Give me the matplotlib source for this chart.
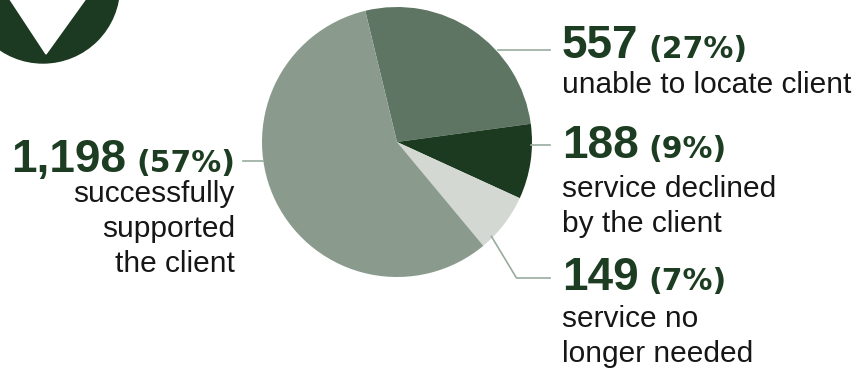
import matplotlib
matplotlib.use("Agg")
import matplotlib.pyplot as plt
from matplotlib.patches import Circle, Polygon

counts = [557, 188, 149, 1198]
percents = [27, 9, 7, 57]
descriptions = ["unable to locate client",
                "service declined\nby the client",
                "service no\nlonger needed",
                "successfully\nsupported\nthe client"]
colors = ["#5e7563", "#1b3a20", "#d3d8d3", "#8a9b8e"]

W, H = 857, 370
fig = plt.figure(figsize=(W / 100, H / 100), dpi=100)
ax = fig.add_axes([0, 0, 1, 1])

def Y(y):
    return H - y

# logo fragment
ax.add_patch(Circle((43, Y(-13.5)), 76.5, color="#1c3a21", zorder=1))
ax.add_patch(Polygon([(12 - 20, Y(-28)), (85 + 20, Y(-28)), (46, Y(54))],
                     closed=True, color="white", zorder=2))

# pie
ax.pie(counts, colors=colors, startangle=103.6, counterclock=False,
       center=(397, Y(142)), radius=135, frame=True,
       wedgeprops=dict(linewidth=0))
ax.set_xlim(0, W)
ax.set_ylim(0, H)
ax.axis("off")

lc = "#9aab9e"
lw = 1.2
ax.plot([498, 550], [Y(50), Y(50)], color=lc, lw=lw)
ax.plot([531, 550], [Y(145), Y(145)], color=lc, lw=lw)
ax.plot([491.5, 516.5, 550], [Y(236.5), Y(278), Y(278)], color=lc, lw=lw)
ax.plot([243, 263], [Y(161), Y(161)], color=lc, lw=lw)

green = "#1d3d22"
dark = "#161616"
font = "Liberation Sans"
pfont = "DejaVu Sans"
big = 33
mid = 21.5
small = 21.5
gap = 10

fig.canvas.draw()
r = fig.canvas.get_renderer()

def headline(x, y, i, align="left"):
    n = f"{counts[i]:,}"
    p = f"({percents[i]}%)"
    if align == "left":
        t1 = ax.text(x, Y(y), n, fontsize=big, fontweight="bold", color=green,
                     family=font, ha="left", va="baseline")
        bb = t1.get_window_extent(r)
        ax.text(bb.x1 + gap, Y(y), p, fontsize=mid, fontweight="bold",
                color=green, family=pfont, ha="left", va="baseline")
    else:
        t2 = ax.text(x, Y(y), p, fontsize=mid, fontweight="bold", color=green,
                     family=pfont, ha="right", va="baseline")
        bb = t2.get_window_extent(r)
        ax.text(bb.x0 - gap, Y(y), n, fontsize=big, fontweight="bold",
                color=green, family=font, ha="right", va="baseline")

def desc(x, y, i, align="left"):
    for k, line in enumerate(descriptions[i].split("\n")):
        ax.text(x, Y(y + 35 * k), line, fontsize=small, color=dark,
                family=font, ha=align, va="baseline")

tx = 562
headline(tx, 58, 0); desc(tx, 93, 0)
headline(tx, 158, 1); desc(tx, 197, 1)
headline(tx, 290, 2); desc(tx, 327, 2)
headline(235, 172, 3, align="right"); desc(235, 202, 3, align="right")

fig.savefig("out.png", dpi=100)
